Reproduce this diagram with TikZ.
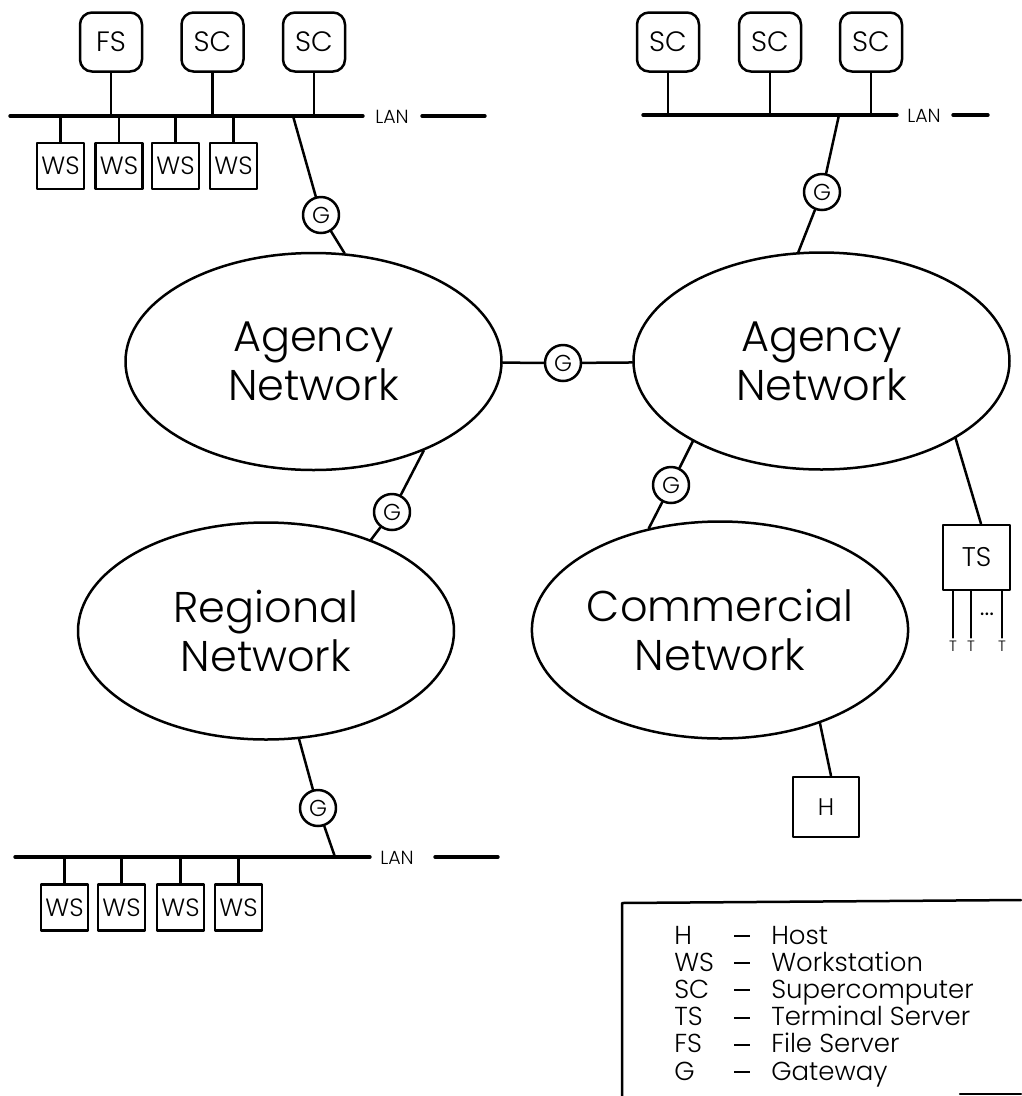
\documentclass[tikz,border=0pt]{standalone}
\usepackage{fontspec}
\setmainfont{Poppins}[UprightFont=* Light]
\usetikzlibrary{shapes.geometric}

\begin{document}
\begin{tikzpicture}[x=1pt,y=-1pt,line width=2.5pt,line cap=round,line join=round,
  net/.style={ellipse,draw,minimum width=376pt,minimum height=217pt,inner sep=0pt,
    align=center,font=\fontsize{43}{49}\selectfont},
  gate/.style={circle,draw,minimum size=36pt,inner sep=0pt,font=\fontsize{23}{23}\selectfont},
  server/.style={draw,rounded corners=12pt,minimum width=62pt,minimum height=59pt,
    inner sep=0pt,font=\fontsize{28}{28}\selectfont},
  station/.style={draw,minimum width=47pt,minimum height=46pt,inner sep=0pt,
    font=\fontsize{25}{25}\selectfont},
  plainbox/.style={draw,inner sep=0pt,font=\fontsize{27}{27}\selectfont},
  bus/.style={line width=3.4pt},
  lanlabel/.style={inner sep=0pt,font=\fontsize{19}{19}\selectfont},
  termlabel/.style={inner sep=2pt,font=\fontsize{15}{15}\selectfont},
  legtext/.style={inner sep=0pt,anchor=base west,font=\fontsize{26}{26}\selectfont}]

\fill[white] (0,0) rectangle (1021,1096);
\useasboundingbox (0,0) rectangle (1021,1096);

% ---------- networks ----------
\node[net] (agL) at (313.5,361.5) {Agency\\Network};
\node[net] (agR) at (821.5,361) {Agency\\Network};
\node[net] (reg) at (266,631) {Regional\\Network};
\node[net] (com) at (720,630) {Commercial\\Network};

% ---------- upper left LAN ----------
\coordinate (lanAw) at (10,116);
\coordinate (lanAe) at (363,116);
\coordinate (lanAd1) at (422,116);
\coordinate (lanAd2) at (485,116);
\coordinate (tapA) at (293,116);
\draw[bus] (lanAw) -- (lanAe);
\draw[bus] (lanAd1) -- (lanAd2);
\node[lanlabel] (lanAlbl) at (392,117) {LAN};

\node[server] (fs) at (111,42) {FS};
\node[server] (scA1) at (212.5,42) {SC};
\node[server] (scA2) at (314,42) {SC};
\foreach \n in {fs,scA1,scA2} \draw (\n) -- (\n |- lanAw);

\foreach \i/\x in {1/60.5,2/119,3/175.5,4/233.5}{
  \node[station] (wsA\i) at (\x,166) {WS};
  \draw (wsA\i) -- (wsA\i |- lanAw);
}

\node[gate] (gA) at (321,215) {G};
\draw (tapA) -- (gA) -- (agL.74);

% ---------- upper right LAN ----------
\coordinate (lanBw) at (643,115);
\coordinate (lanBe) at (897,115);
\coordinate (lanBd1) at (953,115);
\coordinate (lanBd2) at (988,115);
\coordinate (tapB) at (839,115);
\draw[bus] (lanBw) -- (lanBe);
\draw[bus] (lanBd1) -- (lanBd2);
\node[lanlabel] (lanBlbl) at (924,116) {LAN};

\node[server] (scB1) at (668,42) {SC};
\node[server] (scB2) at (770,42) {SC};
\node[server] (scB3) at (871,42) {SC};
\foreach \n in {scB1,scB2,scB3} \draw (\n) -- (\n |- lanBw);

\node[gate] (gB) at (822,192) {G};
\draw (tapB) -- (gB) -- (agR.102);

% ---------- gateways between networks ----------
\node[gate] (gC) at (563,363) {G};
\draw (agL) -- (gC) -- (agR);

\node[gate] (gRA) at (392,512) {G};
\draw (agL.-39) -- (gRA) -- (reg.41);

\node[gate] (gAC) at (671,485) {G};
\draw (agR.-148) -- (gAC) -- (com.125);

% ---------- lower LAN ----------
\coordinate (lanCw) at (15,857);
\coordinate (lanCe) at (370,857);
\coordinate (lanCd1) at (435,857);
\coordinate (lanCd2) at (498,857);
\coordinate (tapC) at (335,857);
\draw[bus] (lanCw) -- (lanCe);
\draw[bus] (lanCd1) -- (lanCd2);
\node[lanlabel] (lanClbl) at (397,858) {LAN};

\node[gate] (gBot) at (318,808) {G};
\draw (reg.-73) -- (gBot) -- (tapC);

\foreach \i/\x in {1/64.5,2/121.5,3/180.5,4/238.5}{
  \node[station] (wsC\i) at (\x,907.5) {WS};
  \draw (wsC\i) -- (wsC\i |- lanCw);
}

% ---------- terminal server ----------
\node[plainbox,minimum width=67pt,minimum height=65pt] (ts) at (976.5,557.5) {TS};
\draw (agR.-30) -- ([xshift=4.5pt]ts.north);
\node[termlabel] (t1) at (953,646) {T};
\node[termlabel] (t2) at (971,646) {T};
\node[termlabel] (t3) at (1002,646) {T};
\foreach \n in {t1,t2,t3} \draw (\n |- ts.south) -- (\n.north);
\node[inner sep=0pt,font=\fontsize{26}{26}\selectfont] (tdots) at (987,614) {...};

% ---------- host ----------
\node[plainbox,minimum width=66pt,minimum height=60pt,font=\fontsize{24}{24}\selectfont] (h) at (826,807) {H};
\draw (com.-43) -- ([xshift=5pt]h.north);

% ---------- legend ----------
\coordinate (legBL) at (622,1096);
\coordinate (legTL) at (622,903);
\coordinate (legTR) at (1021,900);
\coordinate (legB1) at (960,1094);
\coordinate (legB2) at (1021,1094);
\draw (legBL) -- (legTL) -- (legTR);
\draw (legB1) -- (legB2);
\foreach \k/\d [count=\i] in {H/Host,WS/Workstation,SC/Supercomputer,TS/Terminal Server,FS/File Server,G/Gateway}{
  \node[legtext] (key\i) at (673,{944+27.2*(\i-1)}) {\k};
  \node[legtext] (dash\i) at (733,{944+27.2*(\i-1)}) {\rule[0.27em]{0.62em}{2pt}};
  \node[legtext] (desc\i) at (770,{944+27.2*(\i-1)}) {\d};
}
\end{tikzpicture}
\end{document}
